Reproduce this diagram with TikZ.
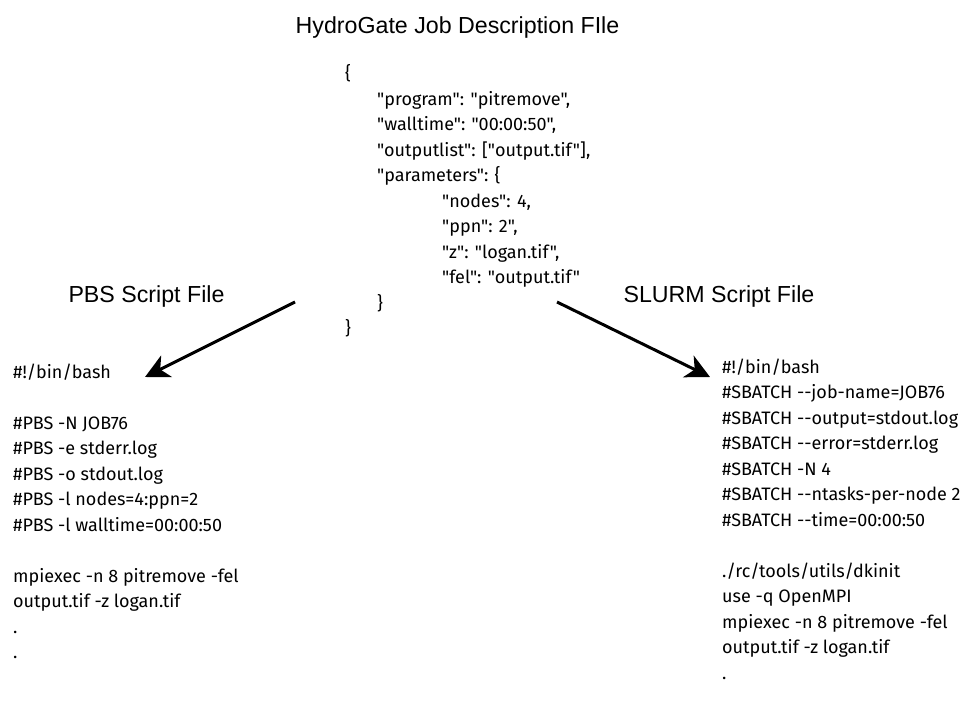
\documentclass[tikz,border=0pt]{standalone}
\usepackage{fontspec}
\setmainfont{Liberation Sans}
% listings keep straight quotes and double hyphens
\newfontfamily\codefont{Fira Sans}[Ligatures=TeXOff]
\newfontfamily\headfont{Liberation Sans}
\usetikzlibrary{arrows.meta}
\begin{document}
\begin{tikzpicture}[x=1pt,y=-1pt,
  heading/.style={font=\headfont\fontsize{23.2}{27}\selectfont, anchor=base, inner sep=0pt},
  listing/.style={font=\codefont\fontsize{18}{25.5}\selectfont, anchor=base west, inner sep=0pt},
  flow/.style={line width=3pt, -{Stealth[length=24pt,width=24pt,inset=7pt]}}]
\useasboundingbox (0,0) rectangle (977,704);

% headings
\node[heading] (jobtitle) at (457.5,33) {HydroGate Job Description FIle};
\node[heading] (pbstitle) at (146.5,302) {PBS Script File};
\node[heading] (slurmtitle) at (719,302) {SLURM Script File};

% job description (JSON)
\node[listing] (job) at (345,79.5) {\begin{tabular}[t]{@{}l@{}}
\{\\
\hspace*{32pt}"program": "pitremove",\\
\hspace*{32pt}"walltime": "00:00:50",\\
\hspace*{32pt}"outputlist": ["output.tif"],\\
\hspace*{32pt}"parameters": \{\\
\hspace*{97pt}"nodes": 4,\\
\hspace*{97pt}"ppn": 2",\\
\hspace*{97pt}"z": "logan.tif",\\
\hspace*{97pt}"fel": "output.tif"\\
\hspace*{32pt}\}\\
\}
\end{tabular}};

% PBS script
\node[listing] (pbs) at (13,378) {\begin{tabular}[t]{@{}l@{}}
\#!/bin/bash\\
\\
\#PBS -N JOB76\\
\#PBS -e stderr.log\\
\#PBS -o stdout.log\\
\#PBS -l nodes=4:ppn=2\\
\#PBS -l walltime=00:00:50\\
\\
mpiexec -n 8 pitremove -fel\\
output.tif -z logan.tif\\
.\\
.
\end{tabular}};

% SLURM script
\node[listing] (slurm) at (722,373) {\begin{tabular}[t]{@{}l@{}}
\#!/bin/bash\\
\#SBATCH -{}-job-name=JOB76\\
\#SBATCH -{}-output=stdout.log\\
\#SBATCH -{}-error=stderr.log\\
\#SBATCH -N 4\\
\#SBATCH -{}-ntasks-per-node 2\\
\#SBATCH -{}-time=00:00:50\\
\\
./rc/tools/utils/dkinit\\
use -q OpenMPI\\
mpiexec -n 8 pitremove -fel\\
output.tif -z logan.tif\\
.
\end{tabular}};

% conversion arrows
\coordinate (pbsfrom) at (295,302);
\coordinate (pbsto) at (145,377);
\coordinate (slurmfrom) at (557,302);
\coordinate (slurmto) at (710,377);
\draw[flow] (pbsfrom) -- (pbsto);
\draw[flow] (slurmfrom) -- (slurmto);
\end{tikzpicture}
\end{document}
